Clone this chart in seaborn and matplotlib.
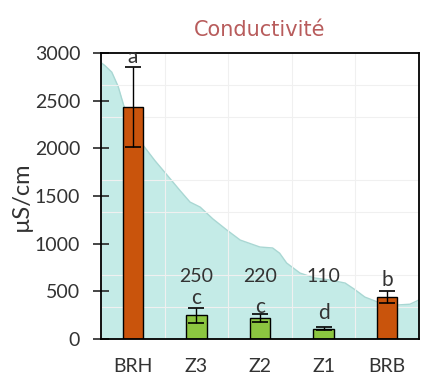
import matplotlib
matplotlib.use("Agg")
import matplotlib.pyplot as plt
from matplotlib.ticker import MultipleLocator
import seaborn as sns
import pandas as pd

categories = ["BRH", "Z3", "Z2", "Z1", "BRB"]
values = [2430, 250, 220, 110, 440]
errors = [420, 80, 40, 12, 60]
groups = ["ref", "zone", "zone", "zone", "ref"]
letters = ["a", "c", "c", "d", "b"]
letter_y = [2955, 430, 335, 273, 620]
value_labels = ["", "250", "220", "110", ""]
value_label_y = 660

profile_x = [-0.5, -0.44, -0.33, -0.23, -0.12, 0.0, 0.16, 0.35, 0.54, 0.74, 0.90, 1.06,
             1.26, 1.48, 1.69, 2.0, 2.2, 2.31, 2.42, 2.63, 2.86, 3.10, 3.34, 3.49,
             3.65, 3.89, 4.12, 4.36, 4.5]
profile_y = [2900, 2870, 2800, 2650, 2400, 2200, 2035, 1870, 1720, 1560, 1437, 1384,
             1260, 1143, 1038, 965, 955, 900, 797, 692, 640, 619, 587, 520,
             440, 378, 355, 365, 409]

sns.set_theme(style="white")
plt.rcParams["font.family"] = ["Lato", "DejaVu Sans"]

df = pd.DataFrame({"cat": categories, "val": values, "grp": groups})

fig = plt.figure(figsize=(4.27, 3.82), dpi=100)
ax = fig.add_axes([0.2365, 0.1126, 0.7445, 0.7484])

ax.fill_between(profile_x, 0, profile_y, color="#c4ebe7", zorder=0, linewidth=0)
ax.plot(profile_x, profile_y, color="#a9d7d3", lw=1.0, zorder=0.5)

sns.barplot(data=df, x="cat", y="val", hue="grp", palette={"ref": "#c9540c", "zone": "#8cc640"},
            order=categories, dodge=False, width=0.32, edgecolor="black", linewidth=1.0,
            saturation=1, legend=False, ax=ax, zorder=2)
ax.errorbar(range(len(categories)), values, yerr=errors, fmt="none", ecolor="black",
            elinewidth=1.0, capsize=6, capthick=1.2, zorder=3)

for i, (l, ly) in enumerate(zip(letters, letter_y)):
    ax.text(i, ly, l, ha="center", va="center", fontsize=15, color="#333333", zorder=4)
for i, t in enumerate(value_labels):
    if t:
        ax.text(i, value_label_y, t, ha="center", va="center", fontsize=14, color="#333333", zorder=4)

ax.set_xlim(-0.5, 4.5)
ax.set_ylim(0, 3000)
ax.set_yticks([0, 500, 1000, 1500, 2000, 2500, 3000])
ax.yaxis.set_minor_locator(MultipleLocator(3000 / 9))
ax.xaxis.set_minor_locator(MultipleLocator(0.5))
ax.grid(which="minor", color="#f0f0f0", lw=0.8, zorder=0)
ax.set_axisbelow(True)

ax.tick_params(axis="y", which="major", direction="inout", length=12, width=1.2,
               left=True, labelsize=14, labelcolor="#333333", pad=9)
ax.tick_params(axis="y", which="minor", length=0)
ax.tick_params(axis="x", which="both", length=0, labelcolor="#333333", pad=14)
for lab in ax.get_xticklabels():
    lab.set_family(["Liberation Sans Narrow", "Lato", "DejaVu Sans"])
    lab.set_fontsize(14)

for s in ax.spines.values():
    s.set_visible(True)
    s.set_color("black")
    s.set_linewidth(1.3)

ax.set_xlabel("")
ax.set_ylabel("µS/cm", fontsize=17, color="#333333", labelpad=2)
ax.set_title("Conductivité", fontsize=15, color="#b85c5c", pad=12,
             family=["DejaVu Sans"])

fig.savefig("out.png", dpi=100)
